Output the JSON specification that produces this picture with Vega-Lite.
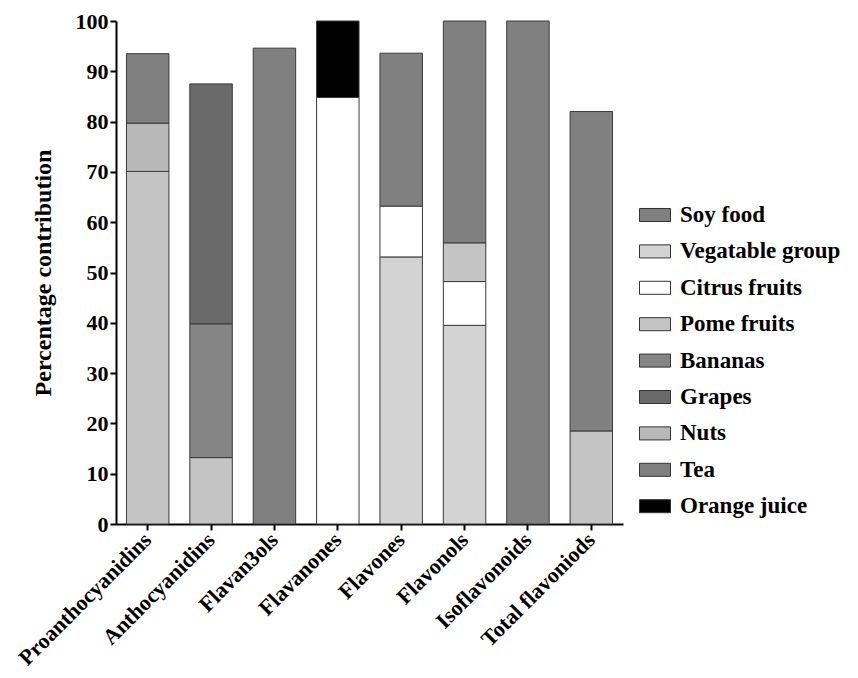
{
  "$schema": "https://vega.github.io/schema/vega-lite/v6.json",
  "width": 507,
  "height": 503,
  "autosize": "none",
  "padding": {"left": 116, "top": 21, "right": 235, "bottom": 154},
  "background": "white",
  "config": {
    "font": "Liberation Serif",
    "view": {"stroke": null}
  },
  "data": {
    "values": [
      {"cls": "Proanthocyanidins", "src": "Pome fruits", "k": 1, "pct": 70.1},
      {"cls": "Proanthocyanidins", "src": "Nuts", "k": 2, "pct": 9.6},
      {"cls": "Proanthocyanidins", "src": "Tea", "k": 3, "pct": 13.8},
      {"cls": "Anthocyanidins", "src": "Pome fruits", "k": 1, "pct": 13.2},
      {"cls": "Anthocyanidins", "src": "Bananas", "k": 2, "pct": 26.6},
      {"cls": "Anthocyanidins", "src": "Grapes", "k": 3, "pct": 47.7},
      {"cls": "Flavan3ols", "src": "Tea", "k": 1, "pct": 94.6},
      {"cls": "Flavanones", "src": "Citrus fruits", "k": 1, "pct": 84.8},
      {"cls": "Flavanones", "src": "Orange juice", "k": 2, "pct": 15.2},
      {"cls": "Flavones", "src": "Vegatable group", "k": 1, "pct": 53.1},
      {"cls": "Flavones", "src": "Citrus fruits", "k": 2, "pct": 10.1},
      {"cls": "Flavones", "src": "Tea", "k": 3, "pct": 30.4},
      {"cls": "Flavonols", "src": "Vegatable group", "k": 1, "pct": 39.5},
      {"cls": "Flavonols", "src": "Citrus fruits", "k": 2, "pct": 8.7},
      {"cls": "Flavonols", "src": "Pome fruits", "k": 3, "pct": 7.7},
      {"cls": "Flavonols", "src": "Tea", "k": 4, "pct": 44.1},
      {"cls": "Isoflavonoids", "src": "Soy food", "k": 1, "pct": 100},
      {"cls": "Total flavoniods", "src": "Pome fruits", "k": 1, "pct": 18.5},
      {"cls": "Total flavoniods", "src": "Tea", "k": 2, "pct": 63.5}
    ]
  },
  "mark": {"type": "bar", "stroke": "#3a3a3a", "strokeWidth": 1},
  "encoding": {
    "x": {
      "field": "cls",
      "type": "nominal",
      "sort": ["Proanthocyanidins", "Anthocyanidins", "Flavan3ols", "Flavanones", "Flavones", "Flavonols", "Isoflavonoids", "Total flavoniods"],
      "scale": {"paddingInner": 0.33, "paddingOuter": 0.165},
      "axis": {
        "title": null,
        "labelAngle": -45,
        "labelAlign": "right",
        "labelBaseline": "middle",
        "labelFontSize": 22,
        "labelFontWeight": "bold",
        "labelColor": "black",
        "labelPadding": 6,
        "labelLimit": 400,
        "tickSize": 6,
        "tickWidth": 2,
        "tickColor": "black",
        "domainWidth": 2,
        "domainColor": "black"
      }
    },
    "y": {
      "field": "pct",
      "type": "quantitative",
      "stack": "zero",
      "scale": {"domain": [0, 100], "nice": false},
      "axis": {
        "title": "Percentage contribution",
        "titleFontSize": 24,
        "titleFontWeight": "bold",
        "titleColor": "black",
        "titlePadding": 20,
        "values": [0, 10, 20, 30, 40, 50, 60, 70, 80, 90, 100],
        "labelFontSize": 22,
        "labelFontWeight": "bold",
        "labelColor": "black",
        "labelPadding": 2,
        "tickSize": 6,
        "tickWidth": 2,
        "tickColor": "black",
        "domainWidth": 2,
        "domainColor": "black",
        "grid": false
      }
    },
    "color": {
      "field": "src",
      "type": "nominal",
      "scale": {
        "domain": ["Soy food", "Vegatable group", "Citrus fruits", "Pome fruits", "Bananas", "Grapes", "Nuts", "Tea", "Orange juice"],
        "range": ["#808080", "#d3d3d3", "#ffffff", "#c4c4c4", "#858585", "#6a6a6a", "#b8b8b8", "#808080", "#000000"]
      },
      "legend": {
        "title": null,
        "orient": "none",
        "legendX": 523,
        "legendY": 178,
        "padding": 0,
        "symbolType": "M-1,-0.42H1V0.42H-1Z",
        "symbolSize": 961,
        "symbolStrokeColor": "#333333",
        "symbolStrokeWidth": 1,
        "symbolOpacity": 1,
        "labelFontSize": 23,
        "labelFontWeight": "bold",
        "labelColor": "black",
        "labelOffset": 9,
        "labelLimit": 300,
        "rowPadding": 8.4
      }
    },
    "order": {"field": "k", "type": "quantitative"}
  }
}
